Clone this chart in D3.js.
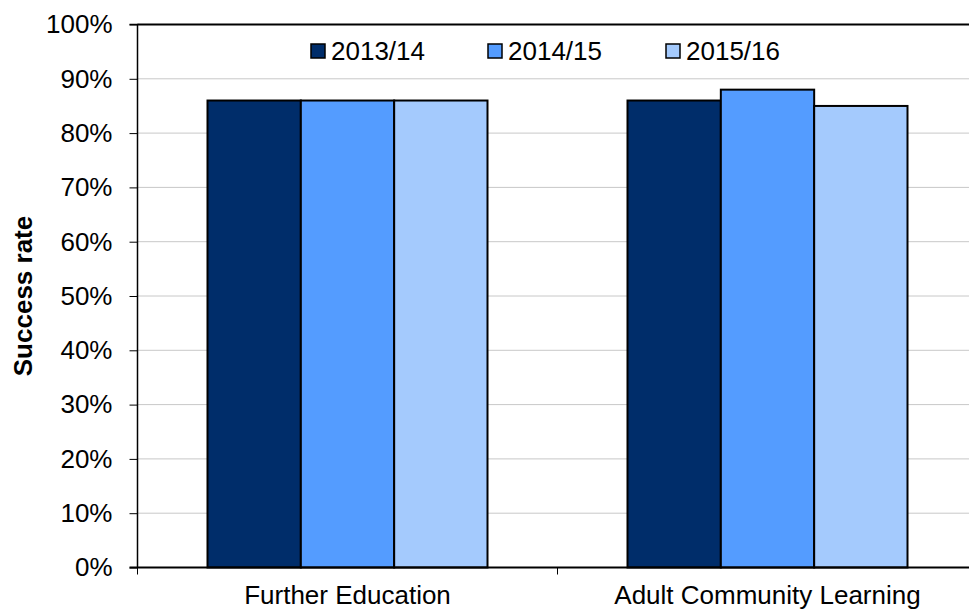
<!DOCTYPE html>
<html><head><meta charset="utf-8">
<script src="https://cdn.jsdelivr.net/npm/d3@7"></script>
<style>body{margin:0;background:#fff;} svg{display:block;font-family:"Liberation Sans",Arial,sans-serif;}</style>
</head><body>
<svg id="c" width="969" height="610"></svg>
<script>
const categories = ["Further Education", "Adult Community Learning"];
const seriesNames = ["2013/14", "2014/15", "2015/16"];
const seriesColors = ["#002D6A", "#549CFF", "#A4CAFD"];
const values2013 = [86, 86];
const values2014 = [86, 88];
const values2015 = [86, 85];
const yTicks = [0, 10, 20, 30, 40, 50, 60, 70, 80, 90, 100];
const seriesValues = [values2013, values2014, values2015];

const FS = 26;
const svg = d3.select("#c");
const L = 137.5, R = 977.5, T = 24.5, B = 567.5;
const x0 = d3.scaleBand().domain(categories).range([L, R]).paddingInner(0).paddingOuter(0);
const x1 = d3.scaleBand().domain(seriesNames).range([0, x0.bandwidth()]).paddingInner(0).paddingOuter(0.75);
const y = d3.scaleLinear().domain([0, 100]).range([B, T]);

// gridlines
svg.append("g").selectAll("line").data(yTicks.filter(d => d > 0)).join("line")
  .attr("x1", L).attr("x2", R).attr("y1", d => y(d)).attr("y2", d => y(d))
  .attr("stroke", "#c8c8c8").attr("stroke-width", 1);
// top border
svg.append("line").attr("x1", L).attr("x2", R).attr("y1", T).attr("y2", T)
  .attr("stroke", "#000").attr("stroke-width", 2);

// bars
const data = [];
categories.forEach((c, i) => seriesNames.forEach((s, j) => data.push({c, s, v: seriesValues[j][i], col: seriesColors[j]})));
svg.append("g").selectAll("rect").data(data).join("rect")
  .attr("x", d => x0(d.c) + x1(d.s))
  .attr("y", d => y(d.v))
  .attr("width", x1.bandwidth())
  .attr("height", d => B - y(d.v))
  .attr("fill", d => d.col)
  .attr("stroke", "#000").attr("stroke-width", 2);

// y axis
const yAxis = d3.axisLeft(y).tickValues(yTicks).tickFormat(d => d + "%").tickSize(8).tickPadding(17);
const gy = svg.append("g").attr("transform", `translate(${L},0)`).call(yAxis);
gy.attr("font-size", FS).attr("font-family", "'Liberation Sans',Arial,sans-serif");
gy.select(".domain").attr("stroke", "#000").attr("stroke-width", 1.5).attr("d", `M-8,${T}H0V${B}`);
gy.selectAll(".tick line").attr("stroke", "#000");
gy.selectAll(".tick text").attr("fill", "#000");

// x axis
const gx = svg.append("g").attr("transform", `translate(0,${B})`);
gx.append("line").attr("x1", L - 8).attr("x2", R).attr("y1", 0).attr("y2", 0).attr("stroke", "#000").attr("stroke-width", 2);
const boundaries = [L, ...categories.slice(1).map(c => x0(c)), R];
gx.selectAll("line.tk").data(boundaries).join("line").attr("class", "tk")
  .attr("x1", d => d).attr("x2", d => d).attr("y1", 0).attr("y2", 7).attr("stroke", "#000").attr("stroke-width", 1);
gx.selectAll("text").data(categories).join("text")
  .attr("x", d => x0(d) + x0.bandwidth() / 2).attr("y", 36)
  .attr("text-anchor", "middle").attr("font-size", FS).attr("fill", "#000").text(d => d);

// y label
svg.append("text").attr("transform", `translate(32,${(T + B) / 2}) rotate(-90)`)
  .attr("text-anchor", "middle").attr("font-size", FS).attr("font-weight", "bold").text("Success rate");

// legend
const legX = [311, 488, 666];
const lg = svg.append("g").selectAll("g").data(seriesNames).join("g")
  .attr("transform", (d, i) => `translate(${legX[i]},44)`);
lg.append("rect").attr("width", 14).attr("height", 14).attr("fill", (d, i) => seriesColors[i])
  .attr("stroke", "#000").attr("stroke-width", 1.5);
lg.append("text").attr("x", 20).attr("y", 15.5).attr("font-size", FS).text(d => d);
</script>
</body></html>
